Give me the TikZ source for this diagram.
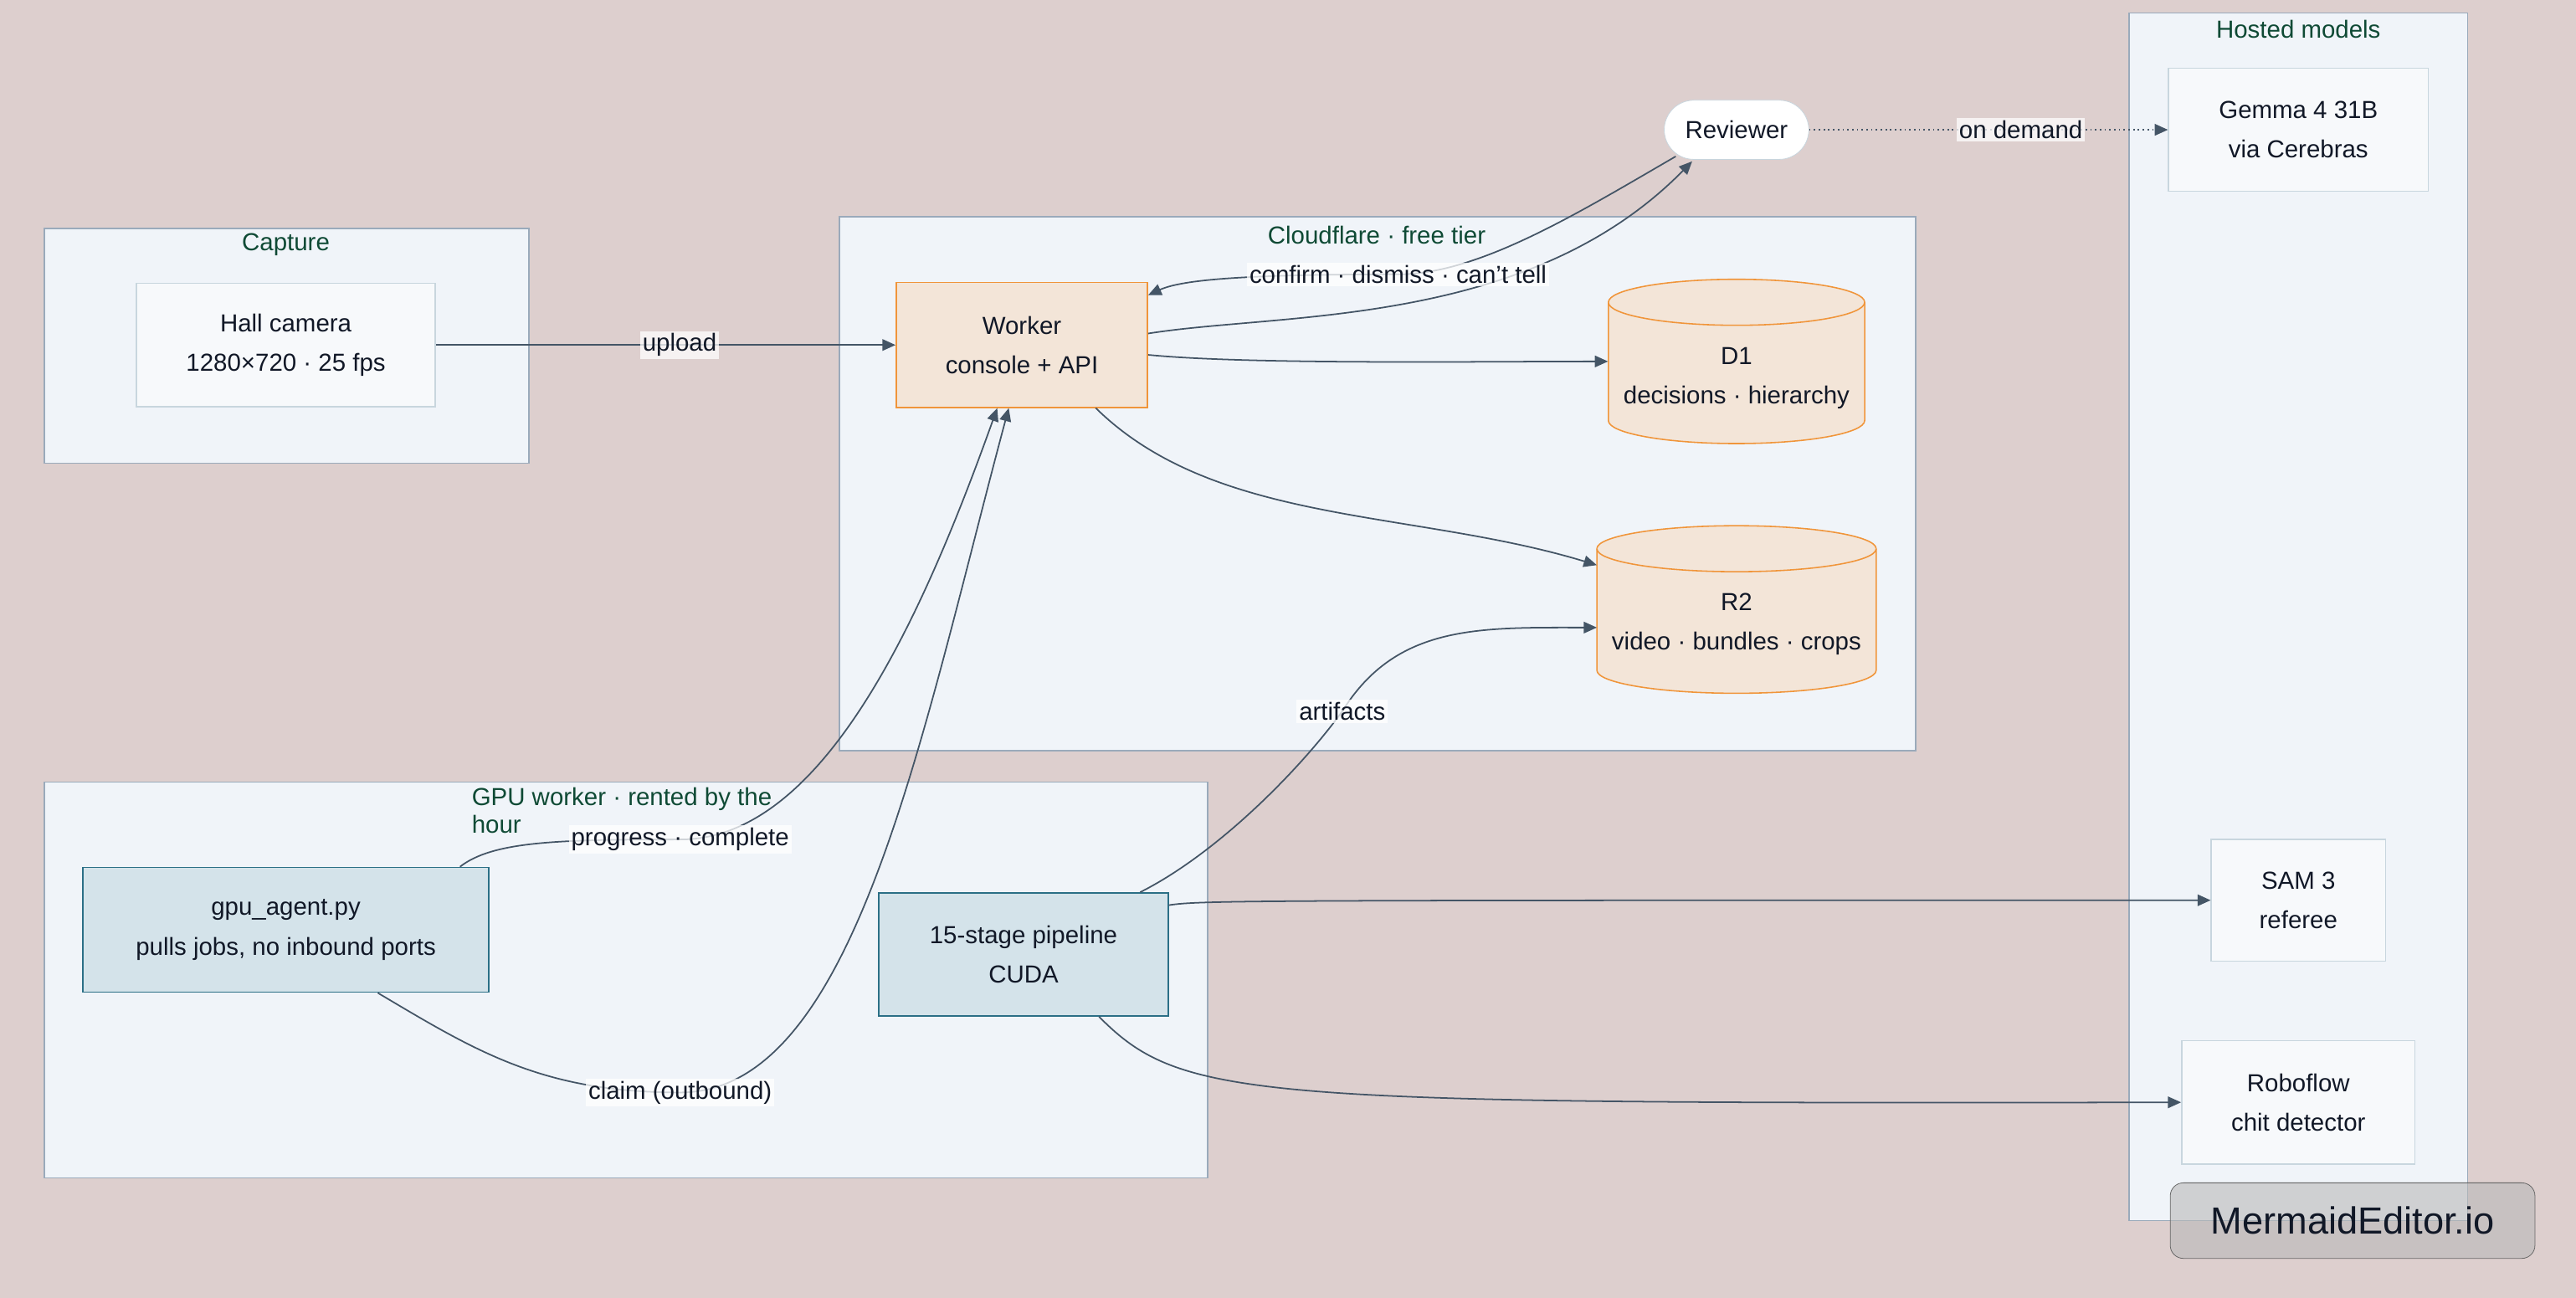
\documentclass[tikz,border=0pt]{standalone}
\usepackage{fontspec}
\setmainfont{Liberation Sans}
\usetikzlibrary{shapes.geometric,arrows.meta}
\definecolor{bg}{HTML}{DDCFCE}
\definecolor{clfill}{HTML}{F0F4F9}
\definecolor{cldraw}{HTML}{9AAABB}
\definecolor{orfill}{HTML}{F3E5D8}
\definecolor{ordraw}{HTML}{F0953A}
\definecolor{blfill}{HTML}{D4E3EA}
\definecolor{bldraw}{HTML}{2B6F86}
\definecolor{ltfill}{HTML}{F7F9FB}
\definecolor{ltdraw}{HTML}{C8D6DE}
\definecolor{ttl}{HTML}{0F4A35}
\definecolor{edge}{HTML}{445566}
\definecolor{txt}{HTML}{111827}
\begin{document}
\begin{tikzpicture}[x=1pt,y=-1pt,
  every node/.style={font=\fontsize{15}{24}\selectfont, text=txt, align=center},
  cluster/.style={draw=cldraw, fill=clfill, line width=0.8pt},
  ctitle/.style={text=ttl},
  orn/.style={draw=ordraw, fill=orfill, line width=0.8pt, minimum width=153pt, minimum height=76pt},
  bln/.style={draw=bldraw, fill=blfill, line width=0.8pt},
  ltn/.style={draw=ltdraw, fill=ltfill, line width=0.8pt},
  cylp/.style={draw=ordraw, fill=orfill, line width=0.8pt},
  conn/.style={draw=edge, line width=0.9pt, -{Triangle[length=8pt,width=7pt]}},
  lbl/.style={fill=white, fill opacity=0.75, text opacity=1, inner sep=1.5pt}]
\fill[bg] (0,0) rectangle (1568,790);
\useasboundingbox (0,0) rectangle (1568,790);
% clusters
\draw[cluster] (27,139) rectangle (322,282);
\node[ctitle] (tcap) at (174,149) {Capture};
\draw[cluster] (511,132) rectangle (1166,457);
\draw[cluster] (1296,8) rectangle (1502,743);
\node[ctitle] (thost) at (1399,18) {Hosted models};
\draw[cluster] (27,476) rectangle (735,717);
\node[ctitle, align=left, anchor=north west, inner sep=0pt, font=\fontsize{15}{17}\selectfont] (tgpu) at (287,479) {GPU worker · rented by the\\hour};
\node[ctitle] (tcf) at (838,143) {Cloudflare · free tier};
% cylinders
\draw[cylp] (979,184) -- (979,256) arc[start angle=180, end angle=0, x radius=78, y radius=14] -- (1135,184) arc[start angle=0, end angle=-180, x radius=78, y radius=14];
\draw[cylp] (979,184) arc[start angle=180, end angle=0, x radius=78, y radius=14];
\node[inner sep=0pt, minimum width=156pt, minimum height=100pt] (d1) at (1057,220) {};
\node (d1t) at (1057,230) {D1\\decisions · hierarchy};
\draw[cylp] (972,334) -- (972,408) arc[start angle=180, end angle=0, x radius=85, y radius=14] -- (1142,334) arc[start angle=0, end angle=-180, x radius=85, y radius=14];
\draw[cylp] (972,334) arc[start angle=180, end angle=0, x radius=85, y radius=14];
\node[inner sep=0pt, minimum width=170pt, minimum height=102pt] (r2) at (1057,371) {};
\node (r2t) at (1057,380) {R2\\video · bundles · crops};
% nodes
\node[ltn, minimum width=182pt, minimum height=75pt] (cam) at (174,210) {Hall camera\\1280×720 · 25 fps};
\node[orn] (wk) at (622,210) {Worker\\console + API};
\node[draw=ltdraw, fill=white, rounded corners=18pt, minimum width=88pt, minimum height=36pt] (rev) at (1057,79) {Reviewer};
\node[ltn, minimum width=158pt, minimum height=75pt] (gem) at (1399,79) {Gemma 4 31B\\via Cerebras};
\node[ltn, minimum width=106pt, minimum height=74pt] (sam) at (1399,548) {SAM 3\\referee};
\node[ltn, minimum width=142pt, minimum height=75pt] (rob) at (1399,671) {Roboflow\\chit detector};
\node[bln, minimum width=247pt, minimum height=76pt] (ga) at (174,566) {gpu\_agent.py\\pulls jobs, no inbound ports};
\node[bln, minimum width=176pt, minimum height=75pt] (pp) at (623,581) {15-stage pipeline\\CUDA};
% edges
\draw[conn] (cam.east) -- node[lbl, pos=0.53] {upload} (wk.west);
\draw[conn] ([yshift=7pt]wk.east) .. controls (780,190) and (930,200) .. ([xshift=-27pt,yshift=-1pt]rev.south);
\coordinate (cf) at (851,167);
\draw[conn] ([xshift=-37pt,yshift=2pt]rev.south) .. controls (960,130) and (900,167) .. (cf) .. controls (760,167) and (720,170) .. ([yshift=-8pt]wk.north east);
\node[lbl] at (cf) {confirm · dismiss · can't tell};
\draw[conn] ([yshift=-6pt]wk.east) .. controls (760,222) and (900,220) .. (d1.west);
\draw[conn] ([xshift=45pt]wk.south) .. controls (740,320) and (860,310) .. (972,344);
\draw[draw=edge, line width=0.9pt, dotted, -{Triangle[length=8pt,width=7pt]}] (rev.east) -- node[lbl, pos=0.59] {on demand} (gem.west);
\coordinate (pc) at (414,511);
\coordinate (cl) at (414,665);
\draw[conn] ([xshift=106pt]ga.north) .. controls (300,512) and (340,511) .. (pc) .. controls (500,511) and (560,380) .. ([xshift=-15pt]wk.south);
\node[lbl] at (pc) {progress · complete};
\draw[conn] ([xshift=56pt]ga.south) .. controls (290,640) and (330,665) .. (cl) .. controls (520,665) and (560,450) .. ([xshift=-8pt]wk.south);
\node[lbl] at (cl) {claim (outbound)};
\coordinate (art) at (817,433);
\draw[conn] ([xshift=71pt]pp.north) .. controls (740,520) and (790,470) .. (art) .. controls (850,380) and (900,382) .. (972,382);
\node[lbl] at (art) {artifacts};
\draw[conn] ([yshift=30pt]pp.east) .. controls (730,548) and (760,548) .. (sam.west);
\draw[conn] ([xshift=46pt]pp.south) .. controls (720,670) and (760,672) .. (rob.west);
% badge
\node[draw=gray!80!black, fill=gray!55, fill opacity=0.6, text opacity=1, rounded corners=8pt, minimum width=222pt, minimum height=46pt, font=\fontsize{23}{26}\selectfont, text=txt] (badge) at (1432,743) {MermaidEditor.io};
\end{tikzpicture}
\end{document}
